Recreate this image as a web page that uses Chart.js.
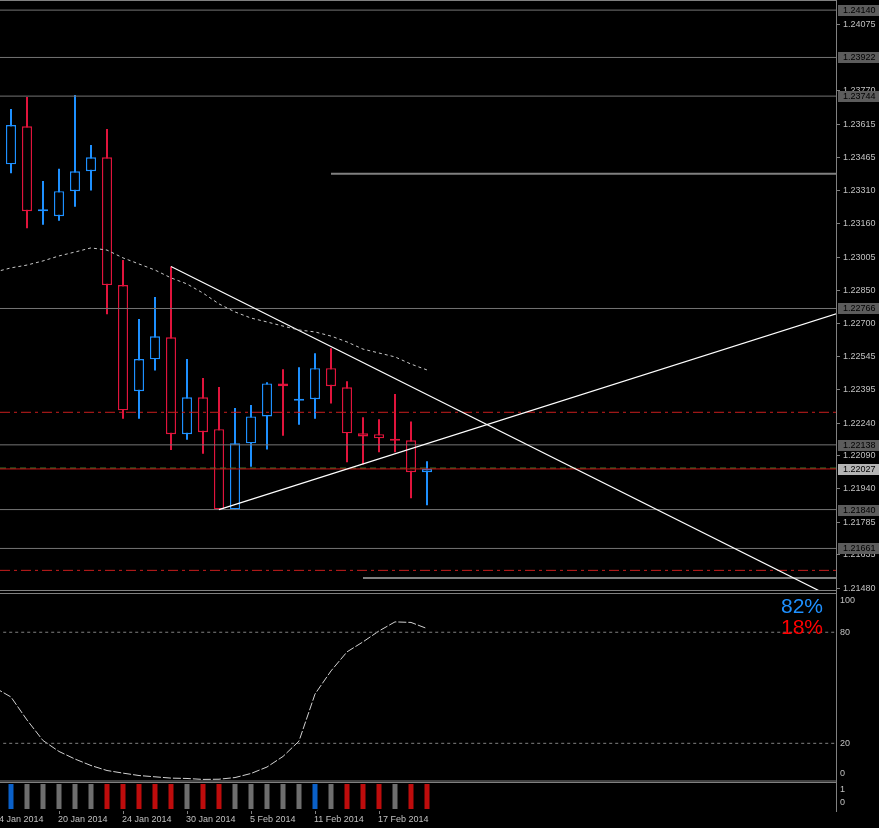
<!DOCTYPE html>
<html lang="en">
<head>
    <meta charset="UTF-8">
    <title>Daily chart Jan - Feb 2014</title>
    <script src="https://cdn.jsdelivr.net/npm/chart.js@4"></script>
    <style>
        body {
            margin: 0;
            background: #000;
        }
        .wrap {
            position: relative;
            width: 879px;
            height: 828px;
            background: #000;
            overflow: hidden;
        }
        canvas {
            position: absolute;
            left: 0;
        }
    </style>
</head>
<body>
    <div class="wrap">
        <canvas id="mainChart" style="top:0px" width="879" height="592"></canvas>
        <canvas id="oscChart" style="top:592px" width="879" height="190"></canvas>
        <canvas id="histChart" style="top:782px" width="879" height="46"></canvas>
    </div>

    <script>
        // Candles (one per trading day)
        const dates = ['15 Jan 2014', '16 Jan 2014', '17 Jan 2014', '20 Jan 2014', '21 Jan 2014', '22 Jan 2014',
            '23 Jan 2014', '24 Jan 2014', '27 Jan 2014', '28 Jan 2014', '29 Jan 2014', '30 Jan 2014', '31 Jan 2014',
            '3 Feb 2014', '4 Feb 2014', '5 Feb 2014', '6 Feb 2014', '7 Feb 2014', '10 Feb 2014', '11 Feb 2014',
            '12 Feb 2014', '13 Feb 2014', '14 Feb 2014', '17 Feb 2014', '18 Feb 2014', '19 Feb 2014', '20 Feb 2014'];
        const opens = [1.23430, 1.23605, 1.23214, 1.23191, 1.23306, 1.23398, 1.23462, 1.22874, 1.22385, 1.22532,
            1.22633, 1.22187, 1.22357, 1.22210, 1.21841, 1.22145, 1.22269, 1.22421, 1.22341, 1.22348,
            1.22491, 1.22403, 1.22191, 1.22187, 1.22166, 1.22159, 1.22012];
        const highs = [1.23685, 1.23740, 1.23353, 1.23409, 1.23749, 1.23519, 1.23593, 1.22989, 1.22718, 1.22819,
            1.22959, 1.22533, 1.22446, 1.22404, 1.22308, 1.22322, 1.22426, 1.22486, 1.22495, 1.22560,
            1.22583, 1.22431, 1.22265, 1.22256, 1.22372, 1.22246, 1.22062];
        const lows = [1.23389, 1.23135, 1.23152, 1.23170, 1.23235, 1.23309, 1.22739, 1.22258, 1.22258, 1.22480,
            1.22114, 1.22162, 1.22097, 1.21838, 1.21838, 1.22037, 1.22117, 1.22180, 1.22231, 1.22258,
            1.22329, 1.22058, 1.22048, 1.22104, 1.22104, 1.21892, 1.21860];
        const closes = [1.23611, 1.23214, 1.23223, 1.23306, 1.23398, 1.23462, 1.22874, 1.22297, 1.22533, 1.22638,
            1.22187, 1.22357, 1.22196, 1.21841, 1.22145, 1.22269, 1.22421, 1.22408, 1.22350, 1.22491,
            1.22408, 1.22191, 1.22177, 1.22168, 1.22157, 1.22012, 1.22027];

        // Moving average, starting one bar before the first candle
        const maValues = [1.22934, 1.22953, 1.22966, 1.22985, 1.23008, 1.23026, 1.23045, 1.23035, 1.22999, 1.22971,
            1.22943, 1.22907, 1.22879, 1.22837, 1.22787, 1.22750, 1.22722, 1.22704, 1.22685, 1.22667,
            1.22658, 1.22639, 1.22612, 1.22579, 1.22561, 1.22543, 1.22510, 1.22483];

        // Horizontal levels and lines drawn on the chart
        const levelPrices = [1.24140, 1.23922, 1.23744, 1.22766, 1.22138, 1.21840, 1.21661];
        const shortLevelPrices = [1.23386, 1.21525];
        const shortLevelStart = [20, 22];
        const redLevelPrices = [1.22288, 1.21560];
        const bidPrice = 1.22027;
        const trendDown = [{ x: 10, y: 1.22959 }, { x: 51, y: 1.21448 }];
        const trendUp = [{ x: 13, y: 1.21840 }, { x: 52, y: 1.22751 }];

        // Right axis tick labels
        const priceTicks = [1.24075, 1.23770, 1.23615, 1.23465, 1.23310, 1.23160, 1.23005, 1.22850, 1.22700,
            1.22545, 1.22395, 1.22240, 1.22090, 1.21940, 1.21785, 1.21635, 1.21480];

        // Oscillator (0-100), starting one bar before the first candle
        const oscValues = [50.0, 45.0, 32.6, 21.5, 15.6, 11.5, 8.0, 5.3, 3.9, 2.6, 1.9, 1.2, 1.0, 0.5, 0.6,
            1.5, 3.7, 7.2, 12.9, 21.2, 46.6, 59.1, 69.4, 74.8, 80.7, 85.6, 85.3, 82.0];
        const oscLevels = [80, 20];
        const oscTicks = [100, 80, 20, 0];
        const bullPct = 82;
        const bearPct = 18;

        // Signal histogram
        const signals = ['up', 'flat', 'flat', 'flat', 'flat', 'flat', 'down', 'down', 'down', 'down', 'down',
            'flat', 'down', 'down', 'flat', 'flat', 'flat', 'flat', 'flat', 'up', 'flat', 'down', 'down', 'down',
            'flat', 'down', 'down'];
        const histTicks = [1, 0];

        // Time axis
        const axisTickIndex = [-1, 3, 7, 11, 15, 19, 23];
        const axisTickText = ['14 Jan 2014', '20 Jan 2014', '24 Jan 2014', '30 Jan 2014', '5 Feb 2014',
            '11 Feb 2014', '17 Feb 2014'];

        // Look
        const X_MIN = -0.6875;
        const X_MAX = 51.5625;
        const BLUE = '#1E90FF';
        const RED = '#E0143C';
        const FRAME = '#808080';
        const LABEL = '#C0C0C0';
        const AXIS_FONT = '9px "Liberation Sans", Arial, sans-serif';
        const signalColors = { up: '#0A60C8', flat: '#6E6E6E', down: '#BE0C0C' };

        const candleColors = closes.map((c, i) => c >= opens[i] ? BLUE : RED);

        function xAxis() {
            return { type: 'linear', min: X_MIN, max: X_MAX, offset: false, display: false };
        }

        function hLine(price, color, width, dash, from) {
            return {
                type: 'line',
                data: [{ x: from === undefined ? X_MIN : from, y: price }, { x: X_MAX, y: price }],
                borderColor: color,
                borderWidth: width,
                borderDash: dash || [],
                pointRadius: 0,
                fill: false,
                order: 1
            };
        }

        // Label with a vertical position kept inside a panel
        function sideLabel(ctx, text, x, y, top, bottom, inset) {
            const py = Math.min(Math.max(y, top + inset), bottom - inset);
            ctx.fillText(text, x, py);
        }

        const mainAxisPlugin = {
            id: 'mainAxis',
            afterDraw(chart) {
                const ctx = chart.ctx;
                const yScale = chart.scales.y;
                const axisX = chart.chartArea.right;
                ctx.save();
                ctx.strokeStyle = FRAME;
                ctx.lineWidth = 1;
                ctx.beginPath();
                ctx.moveTo(0, 0.5);
                ctx.lineTo(axisX, 0.5);
                ctx.moveTo(0, chart.height - 1.5);
                ctx.lineTo(axisX, chart.height - 1.5);
                ctx.moveTo(axisX + 0.5, 0);
                ctx.lineTo(axisX + 0.5, chart.height);
                ctx.stroke();

                ctx.font = AXIS_FONT;
                ctx.textBaseline = 'middle';
                ctx.textAlign = 'left';
                priceTicks.forEach(p => {
                    const py = Math.round(yScale.getPixelForValue(p)) + 0.5;
                    ctx.beginPath();
                    ctx.moveTo(axisX, py);
                    ctx.lineTo(axisX + 4, py);
                    ctx.stroke();
                    ctx.fillStyle = LABEL;
                    ctx.fillText(p.toFixed(5), axisX + 7, py);
                });

                function box(p, bg) {
                    const py = Math.round(yScale.getPixelForValue(p));
                    ctx.fillStyle = bg;
                    ctx.fillRect(axisX + 2, py - 5, chart.width - axisX - 2, 11);
                    ctx.fillStyle = '#000';
                    ctx.fillText(p.toFixed(5), axisX + 7, py + 0.5);
                }
                levelPrices.forEach(p => box(p, '#5C5C5C'));
                box(bidPrice, '#B4B4B4');
                ctx.restore();
            }
        };

        const oscAxisPlugin = {
            id: 'oscAxis',
            afterDraw(chart) {
                const ctx = chart.ctx;
                const yScale = chart.scales.y;
                const area = chart.chartArea;
                const axisX = area.right;
                ctx.save();
                ctx.strokeStyle = FRAME;
                ctx.lineWidth = 1;
                ctx.beginPath();
                ctx.moveTo(0, 1.5);
                ctx.lineTo(axisX, 1.5);
                ctx.moveTo(0, chart.height - 1);
                ctx.lineTo(axisX, chart.height - 1);
                ctx.moveTo(axisX + 0.5, 0);
                ctx.lineTo(axisX + 0.5, chart.height);
                ctx.stroke();

                ctx.font = AXIS_FONT;
                ctx.textBaseline = 'middle';
                ctx.textAlign = 'left';
                ctx.fillStyle = LABEL;
                oscTicks.forEach(v => {
                    sideLabel(ctx, String(v), axisX + 4, yScale.getPixelForValue(v), area.top, area.bottom, 8);
                });

                ctx.font = '21px "Liberation Sans", Arial, sans-serif';
                ctx.textAlign = 'right';
                ctx.textBaseline = 'alphabetic';
                ctx.fillStyle = BLUE;
                ctx.fillText(bullPct + '%', axisX - 13, 21);
                ctx.fillStyle = '#FF0000';
                ctx.fillText(bearPct + '%', axisX - 13, 42);
                ctx.restore();
            }
        };

        const histAxisPlugin = {
            id: 'histAxis',
            afterDraw(chart) {
                const ctx = chart.ctx;
                const xScale = chart.scales.x;
                const yScale = chart.scales.y;
                const area = chart.chartArea;
                const axisX = area.right;
                ctx.save();
                ctx.strokeStyle = FRAME;
                ctx.lineWidth = 1;
                ctx.beginPath();
                ctx.moveTo(0, 0.5);
                ctx.lineTo(axisX, 0.5);
                ctx.moveTo(axisX + 0.5, 0);
                ctx.lineTo(axisX + 0.5, area.bottom + 3);
                ctx.stroke();

                ctx.font = AXIS_FONT;
                ctx.textBaseline = 'middle';
                ctx.textAlign = 'left';
                ctx.fillStyle = LABEL;
                histTicks.forEach(v => {
                    sideLabel(ctx, String(v), axisX + 4, yScale.getPixelForValue(v), area.top, area.bottom, 6);
                });

                axisTickIndex.forEach((idx, k) => {
                    const px = Math.round(xScale.getPixelForValue(idx)) + 0.5;
                    ctx.beginPath();
                    ctx.moveTo(px, area.bottom + 2);
                    ctx.lineTo(px, area.bottom + 5);
                    ctx.stroke();
                    ctx.fillText(axisTickText[k], px - 1.5, area.bottom + 10.5);
                });
                ctx.restore();
            }
        };

        const baseOptions = (yMin, yMax, padding) => ({
            responsive: false,
            animation: false,
            events: [],
            layout: { padding: padding },
            scales: {
                x: xAxis(),
                y: { type: 'linear', min: yMin, max: yMax, beginAtZero: false, display: false }
            },
            plugins: { legend: { display: false }, tooltip: { enabled: false } }
        });

        // Main price panel
        const mainDatasets = [
            {
                type: 'bar',
                data: highs.map((h, i) => ({ x: i, y: [lows[i], h] })),
                backgroundColor: candleColors,
                borderWidth: 0,
                inflateAmount: 0,
                barThickness: 2,
                grouped: false,
                order: 3
            },
            {
                type: 'bar',
                data: opens.map((o, i) => ({ x: i, y: [o, closes[i]] })),
                backgroundColor: '#000',
                borderColor: candleColors,
                borderWidth: 1.4,
                borderSkipped: false,
                inflateAmount: 0,
                barThickness: 10,
                grouped: false,
                order: 2
            },
            {
                type: 'line',
                data: maValues.map((v, i) => ({ x: i - 1, y: v })),
                borderColor: '#C8C8C8',
                borderWidth: 1,
                borderDash: [3, 3],
                pointRadius: 0,
                fill: false,
                order: 0
            }
        ];
        levelPrices.forEach(p => mainDatasets.push(hLine(p, '#747474', 1)));
        shortLevelPrices.forEach((p, k) => mainDatasets.push(hLine(p, '#808080', 2, [], shortLevelStart[k])));
        redLevelPrices.forEach(p => mainDatasets.push(hLine(p, '#C81E1E', 1, [10, 4, 3, 4])));
        mainDatasets.push(hLine(bidPrice, '#C81414', 1));
        mainDatasets.push(hLine(bidPrice + 0.00004, '#3C8C32', 1, [6, 4]));
        [trendDown, trendUp].forEach(t => mainDatasets.push({
            type: 'line',
            data: t,
            borderColor: '#FFFFFF',
            borderWidth: 1.2,
            pointRadius: 0,
            fill: false,
            order: 0
        }));

        new Chart(document.getElementById('mainChart'), {
            type: 'bar',
            data: { datasets: mainDatasets },
            options: baseOptions(1.21465, 1.24182, { top: 1, bottom: 1, left: 0, right: 43 }),
            plugins: [mainAxisPlugin]
        });

        // Oscillator panel
        const oscDatasets = oscLevels.map(v => ({
            type: 'line',
            data: [{ x: X_MIN + 0.2, y: v }, { x: X_MAX, y: v }],
            borderColor: '#808080',
            borderWidth: 1,
            borderDash: [3, 3],
            pointRadius: 0,
            fill: false
        }));
        oscDatasets.push({
            type: 'line',
            data: oscValues.map((v, i) => ({ x: i - 1, y: v })),
            borderColor: '#D2D2D2',
            borderWidth: 1,
            borderDash: [8, 2],
            pointRadius: 0,
            tension: 0,
            fill: false
        });

        new Chart(document.getElementById('oscChart'), {
            type: 'line',
            data: { datasets: oscDatasets },
            options: baseOptions(-0.9, 101.2, { top: 1, bottom: 0, left: 0, right: 43 }),
            plugins: [oscAxisPlugin]
        });

        // Signal histogram and time axis
        new Chart(document.getElementById('histChart'), {
            type: 'bar',
            data: {
                datasets: [{
                    data: signals.map((s, i) => ({ x: i, y: 1 })),
                    backgroundColor: signals.map(s => signalColors[s]),
                    borderWidth: 0,
                    inflateAmount: 0,
                    barThickness: 5,
                    grouped: false
                }]
            },
            options: baseOptions(0, 1, { top: 2, bottom: 19, left: 0, right: 43 }),
            plugins: [histAxisPlugin]
        });
    </script>
</body>
</html>
